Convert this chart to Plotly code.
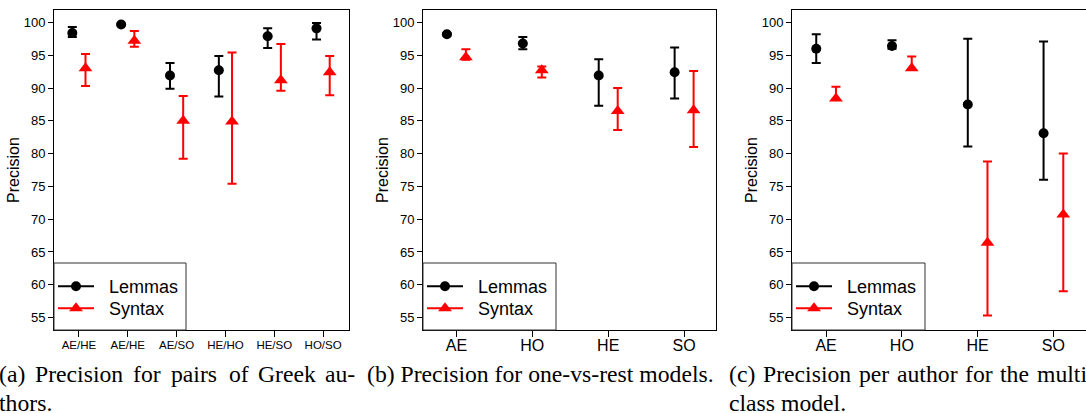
import plotly.graph_objects as go

# ---------------- data ----------------
pairs_labels = ["AE/HE", "AE/HE", "AE/SO", "HE/HO", "HE/SO", "HO/SO"]
pairs_lemmas = [98.4, 99.7, 91.9, 92.7, 97.9, 99.1]
pairs_lemmas_hi = [99.3, 99.8, 93.8, 94.9, 99.1, 99.9]
pairs_lemmas_lo = [97.8, 99.6, 89.9, 88.7, 96.1, 97.4]
pairs_syntax = [93.0, 97.2, 85.0, 84.9, 91.2, 92.4]
pairs_syntax_hi = [95.2, 98.7, 88.8, 95.4, 96.7, 94.9]
pairs_syntax_lo = [90.3, 96.3, 79.2, 75.4, 89.6, 88.9]

ovr_labels = ["AE", "HO", "HE", "SO"]
ovr_lemmas = [98.2, 96.8, 91.9, 92.4]
ovr_lemmas_hi = [98.4, 97.8, 94.4, 96.2]
ovr_lemmas_lo = [98.0, 95.9, 87.3, 88.4]
ovr_syntax = [94.7, 92.7, 86.5, 86.6]
ovr_syntax_hi = [95.9, 93.3, 90.0, 92.6]
ovr_syntax_lo = [94.3, 91.6, 83.6, 81.0]

multi_labels = ["AE", "HO", "HE", "SO"]
multi_lemmas = [96.0, 96.4, 87.5, 83.1]
multi_lemmas_hi = [98.2, 97.3, 97.5, 97.1]
multi_lemmas_lo = [93.8, 96.0, 81.1, 76.0]
multi_syntax = [88.4, 93.0, 66.4, 70.7]
multi_syntax_hi = [90.2, 94.8, 78.8, 80.0]
multi_syntax_lo = [88.2, 92.8, 55.3, 59.0]

y_ticks = [55, 60, 65, 70, 75, 80, 85, 90, 95, 100]

# ---------------- layout helpers ----------------
W, H = 1086, 413
SANS = "Liberation Sans, Arial, Helvetica, sans-serif"
SERIF = "Liberation Serif, Times New Roman, serif"
NB = "\u00a0"


def px(p):
    return p / W


def py(p):
    return 1 - p / H


panels = [
    dict(labels=pairs_labels, lem=pairs_lemmas, lem_hi=pairs_lemmas_hi, lem_lo=pairs_lemmas_lo,
         syn=pairs_syntax, syn_hi=pairs_syntax_hi, syn_lo=pairs_syntax_lo,
         dom=(54, 349), xr=(0.49, 6.53), off=0.135, tickfont=11.5, box_w=132, tstand=-2),
    dict(labels=ovr_labels, lem=ovr_lemmas, lem_hi=ovr_lemmas_hi, lem_lo=ovr_lemmas_lo,
         syn=ovr_syntax, syn_hi=ovr_syntax_hi, syn_lo=ovr_syntax_lo,
         dom=(423, 716), xr=(0.56, 4.42), off=0.125, tickfont=16, box_w=133, tstand=-5),
    dict(labels=multi_labels, lem=multi_lemmas, lem_hi=multi_lemmas_hi, lem_lo=multi_lemmas_lo,
         syn=multi_syntax, syn_hi=multi_syntax_hi, syn_lo=multi_syntax_lo,
         dom=(792, 1086), xr=(0.55, 4.43), off=0.13, tickfont=16, box_w=133, tstand=-5),
]

fig = go.Figure()
layout = dict(
    width=W, height=H, margin=dict(l=0, r=0, t=0, b=0),
    paper_bgcolor="white", plot_bgcolor="white",
    font=dict(family=SANS, color="black"),
    shapes=[], annotations=[],
)

y_dom = [py(330), py(10)]
ITEMW = 36
legend_idx = 0

for i, p in enumerate(panels):
    n = i + 1
    sx = "" if n == 1 else str(n)
    xa, ya = "x" + sx, "y" + sx
    xs = list(range(1, len(p["labels"]) + 1))
    lem_x = [v - p["off"] for v in xs]
    syn_x = [v + p["off"] for v in xs]

    fig.add_trace(go.Scatter(
        x=lem_x, y=p["lem"], mode="markers", xaxis=xa, yaxis=ya, showlegend=False,
        marker=dict(symbol="circle", size=10, color="black"),
        error_y=dict(type="data", symmetric=False,
                     array=[h - v for h, v in zip(p["lem_hi"], p["lem"])],
                     arrayminus=[v - l for l, v in zip(p["lem_lo"], p["lem"])],
                     color="black", thickness=2, width=4.5),
    ))
    fig.add_trace(go.Scatter(
        x=syn_x, y=p["syn"], mode="markers", xaxis=xa, yaxis=ya, showlegend=False,
        marker=dict(symbol="triangle-up", size=12, color="red"),
        error_y=dict(type="data", symmetric=False,
                     array=[h - v for h, v in zip(p["syn_hi"], p["syn"])],
                     arrayminus=[v - l for l, v in zip(p["syn_lo"], p["syn"])],
                     color="red", thickness=2, width=4.5),
    ))

    x0, x1 = p["dom"]
    # legend entries: each in its own legend for precise row spacing
    for name, color, sym, size, yc in [("Lemmas", "black", "circle", 10, 286),
                                       ("Syntax", "red", "triangle-up", 12, 308)]:
        legend_idx += 1
        lg = "legend" if legend_idx == 1 else "legend%d" % legend_idx
        fig.add_trace(go.Scatter(
            x=[None], y=[None], mode="lines+markers", name=NB + NB + name,
            xaxis=xa, yaxis=ya, legend=lg,
            line=dict(color=color, width=2), marker=dict(symbol=sym, size=size, color=color),
        ))
        layout[lg] = dict(
            x=px(x0 + 21 - 4 - ITEMW / 2), y=py(yc - 18), xanchor="left", yanchor="top",
            bgcolor="rgba(0,0,0,0)", borderwidth=0,
            font=dict(family=SANS, size=18, color="black"),
            itemwidth=ITEMW, tracegroupgap=0,
        )

    layout["xaxis" + sx] = dict(
        domain=[px(x0), px(x1)], range=list(p["xr"]), anchor=ya,
        tickmode="array", tickvals=xs, ticktext=p["labels"],
        ticks="outside", ticklen=6, tickwidth=1, tickcolor="black",
        ticklabelstandoff=p["tstand"],
        tickfont=dict(family=SANS, size=p["tickfont"], color="black"),
        showline=True, linecolor="black", linewidth=1, mirror=True,
        showgrid=False, zeroline=False, fixedrange=True,
    )
    layout["yaxis" + sx] = dict(
        domain=y_dom, range=[53.1, 101.9], anchor=xa,
        tickmode="array", tickvals=y_ticks,
        ticks="outside", ticklen=5, tickwidth=1, tickcolor="black",
        tickfont=dict(family=SANS, size=13, color="black"),
        showline=True, linecolor="black", linewidth=1, mirror=(n != 3),
        showgrid=False, zeroline=False, fixedrange=True,
        title=dict(text="Precision", font=dict(family=SANS, size=16, color="black"), standoff=0),
    )
    layout["shapes"].append(dict(
        type="rect", xref="paper", yref="paper",
        x0=px(x0), x1=px(x0 + p["box_w"]), y0=py(330), y1=py(263),
        line=dict(color="#333333", width=1), fillcolor="rgba(0,0,0,0)", layer="above",
    ))

# ---------------- captions ----------------
CAP = 23.7
L1, L2 = 374, 403
cap_words = [
    # (text, left x px, center y px)
    ("(a)", -3, L1), ("Precision", 33, L1), ("for", 131, L1), ("pairs", 169, L1),
    ("of", 227, L1), ("Greek", 256, L1), ("au-", 323, L1),
    ("thors.", -3, L2),
    ("(b) Precision for one-vs-rest models.", 365, L1),
    ("(c)", 727, L1), ("Precision", 761, L1), ("per", 857, L1), ("author", 895, L1),
    ("for", 963, L1), ("the", 998, L1), ("multi-", 1035, L1),
    ("class model.", 727, L2),
]
for txt, xl, yc in cap_words:
    layout["annotations"].append(dict(
        text=txt, x=px(xl), y=py(yc), xref="paper", yref="paper",
        xanchor="left", yanchor="middle", showarrow=False,
        font=dict(family=SERIF, size=CAP, color="black"),
    ))

fig.update_layout(**layout)
fig.write_html(
    "out.html",
    config={"displayModeBar": False},
    post_script="document.body.style.margin='0';document.body.style.overflow='hidden';",
)
